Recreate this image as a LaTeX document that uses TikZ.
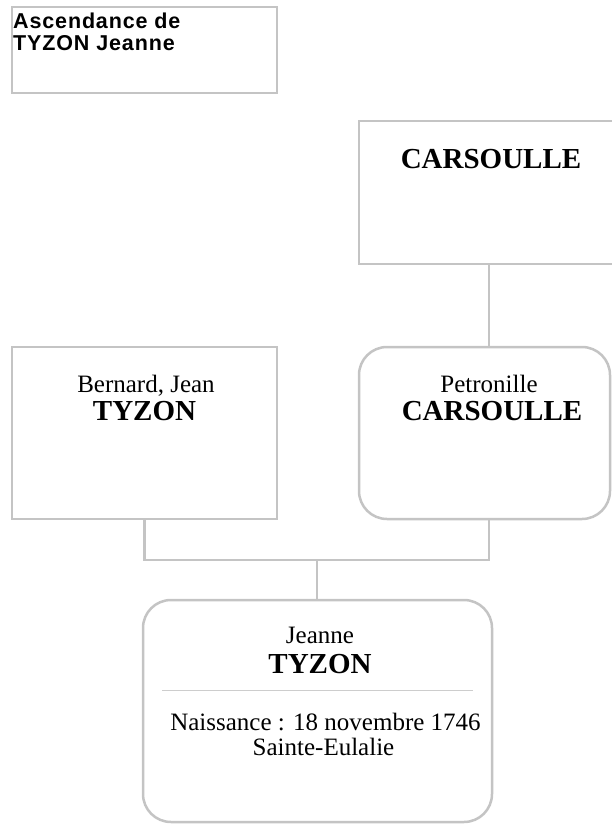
\documentclass[tikz,border=0pt]{standalone}
\usepackage{fontspec}
\setmainfont{Liberation Serif}
\newfontfamily\titlefont{Liberation Sans}[LetterSpace=4]
\definecolor{linegray}{RGB}{196,196,196}
\definecolor{sepgray}{RGB}{205,205,205}
\begin{document}
\begin{tikzpicture}[x=1pt,y=-1pt,
  box/.style={draw=linegray,line width=2.5pt,fill=white,inner sep=0pt,outer sep=0pt},
  rbox/.style={box,rounded corners=28pt},
  link/.style={draw=linegray,line width=2.5pt},
  given/.style={font=\fontsize{25}{28}\selectfont,inner sep=0pt,anchor=base},
  surname/.style={font=\bfseries\fontsize{29}{32}\selectfont,inner sep=0pt,anchor=base},
  titletext/.style={font=\titlefont\bfseries\fontsize{21.5}{22}\selectfont,inner sep=0pt,anchor=base west}]
\path[use as bounding box] (0,0) rectangle (612,824);

% title
\node[box,minimum width=265pt,minimum height=86pt] (title) at (144.5,50) {};
\node[titletext] (title1) at (13,29) {Ascendance de};
\node[titletext] (title2) at (13,51) {TYZON Jeanne};

% boxes
\node[box,minimum width=264pt,minimum height=143pt] (gm) at (491,192.5) {};
\node[box,minimum width=265pt,minimum height=172pt] (father) at (144.5,433) {};
\node[rbox,minimum width=251pt,minimum height=172pt] (mother) at (484.5,433) {};
\node[rbox,minimum width=349pt,minimum height=222pt] (child) at (317.5,711) {};

% texts
\node[surname] (gmname) at (491,168) {CARSOULLE};
\node[given] (fgiven) at (146,392) {Bernard, Jean};
\node[surname] (fname) at (144.5,420) {TYZON};
\node[given] (mgiven) at (489,392) {Petronille};
\node[surname] (mname) at (492,420) {CARSOULLE};
\node[given] (cgiven) at (320,643) {Jeanne};
\node[surname] (cname) at (320,673) {TYZON};
\coordinate (sepL) at (162,690);
\coordinate (sepR) at (473,690);
\draw[sepgray,line width=1pt] (sepL) -- (sepR);
\node[given] (birth) at (325.5,730) {Naissance~: 18 novembre 1746};
\node[given] (place) at (323.5,755) {Sainte-Eulalie};

% connectors
\coordinate (gmB) at (489,264);
\coordinate (mT) at (489,347);
\coordinate (mB) at (489,519);
\coordinate (join) at (317,560);
\draw[link] (gmB) -- (mT);
\draw[link] (father.south) |- (join) -| (mB);
\draw[link] (join) -- (child.north -| join);
\end{tikzpicture}
\end{document}
